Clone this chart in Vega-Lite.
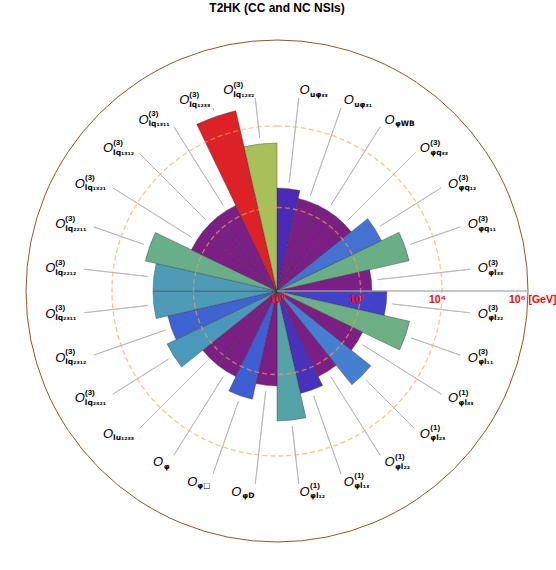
{
  "$schema": "https://vega.github.io/schema/vega-lite/v6.json",
  "width": 554,
  "height": 556,
  "autosize": {"type": "none"},
  "padding": {"top": 13, "left": 0, "right": 2, "bottom": 1},
  "background": "white",
  "title": {"text": "T2HK (CC and NC NSIs)", "font": "Liberation Sans", "fontSize": 12, "fontWeight": "bold", "anchor": "middle", "frame": "group", "offset": -2, "color": "black"},
  "config": {"view": {"stroke": null}, "font": "Liberation Sans"},
  "data": {"values": [
    {"idx": 0, "op": "O_uphi33", "value": 376, "sub": "uφ₃₃", "sup": ""},
    {"idx": 1, "op": "O_uphi31", "value": 237, "sub": "uφ₃₁", "sup": ""},
    {"idx": 2, "op": "O_phiWB", "value": 237, "sub": "φWB", "sup": ""},
    {"idx": 3, "op": "O3_phiq33", "value": 237, "sub": "φq₃₃", "sup": "(3)"},
    {"idx": 4, "op": "O3_phiq12", "value": 794, "sub": "φq₁₂", "sup": "(3)"},
    {"idx": 5, "op": "O3_phiq11", "value": 2441, "sub": "φq₁₁", "sup": "(3)"},
    {"idx": 6, "op": "O3_phil33", "value": 237, "sub": "φl₃₃", "sup": "(3)"},
    {"idx": 7, "op": "O3_phil22", "value": 562, "sub": "φl₂₂", "sup": "(3)"},
    {"idx": 8, "op": "O3_phil11", "value": 2512, "sub": "φl₁₁", "sup": "(3)"},
    {"idx": 9, "op": "O1_phil33", "value": 237, "sub": "φl₃₃", "sup": "(1)"},
    {"idx": 10, "op": "O1_phil23", "value": 1000, "sub": "φl₂₃", "sup": "(1)"},
    {"idx": 11, "op": "O1_phil22", "value": 237, "sub": "φl₂₂", "sup": "(1)"},
    {"idx": 12, "op": "O1_phil13", "value": 422, "sub": "φl₁₃", "sup": "(1)"},
    {"idx": 13, "op": "O1_phil12", "value": 1778, "sub": "φl₁₂", "sup": "(1)"},
    {"idx": 14, "op": "O_phiD", "value": 237, "sub": "φD", "sup": ""},
    {"idx": 15, "op": "O_phiBox", "value": 596, "sub": "φ□", "sup": ""},
    {"idx": 16, "op": "O_phi", "value": 237, "sub": "φ", "sup": ""},
    {"idx": 17, "op": "O_lu1233", "value": 237, "sub": "lu₁₂₃₃", "sup": ""},
    {"idx": 18, "op": "O3_lq2321", "value": 1122, "sub": "lq₂₃₂₁", "sup": "(3)"},
    {"idx": 19, "op": "O3_lq2312", "value": 631, "sub": "lq₂₃₁₂", "sup": "(3)"},
    {"idx": 20, "op": "O3_lq2311", "value": 1259, "sub": "lq₂₃₁₁", "sup": "(3)"},
    {"idx": 21, "op": "O3_lq2212", "value": 1259, "sub": "lq₂₂₁₂", "sup": "(3)"},
    {"idx": 22, "op": "O3_lq2211", "value": 2371, "sub": "lq₂₂₁₁", "sup": "(3)"},
    {"idx": 23, "op": "O3_lq1321", "value": 237, "sub": "lq₁₃₂₁", "sup": "(3)"},
    {"idx": 24, "op": "O3_lq1312", "value": 237, "sub": "lq₁₃₁₂", "sup": "(3)"},
    {"idx": 25, "op": "O3_lq1311", "value": 237, "sub": "lq₁₃₁₁", "sup": "(3)"},
    {"idx": 26, "op": "O3_lq1233", "value": 42170, "sub": "lq₁₂₃₃", "sup": "(3)"},
    {"idx": 27, "op": "O3_lq1232", "value": 5012, "sub": "lq₁₂₃₂", "sup": "(3)"}
  ]},
  "layer": [
    {
      "data": {"values": [{"a0": 0, "a1": 28, "r": 1883650}]},
      "mark": {"type": "arc", "filled": false, "stroke": "#8b5a2b", "strokeWidth": 1},
      "encoding": {
        "theta": {"field": "a0", "type": "quantitative", "scale": {"domain": [0, 28]}},
        "theta2": {"field": "a1"},
        "radius": {"field": "r", "type": "quantitative", "scale": {"type": "log", "domain": [1, 1883650], "range": [0, 251], "zero": false}}
      }
    },
    {
      "mark": {"type": "arc", "stroke": "#2a2a2a", "strokeWidth": 0.6, "strokeOpacity": 0.6, "theta2Offset": 0.224399},
      "encoding": {
        "theta": {"field": "idx", "type": "quantitative", "scale": {"domain": [0, 28]}},
        "theta2": {"field": "idx"},
        "radius": {"field": "value", "type": "quantitative", "scale": {"type": "log", "domain": [1, 1883650], "range": [0, 251], "zero": false}},
        "fill": {"field": "value", "type": "quantitative", "legend": null,
          "scale": {"type": "log", "interpolate": "rgb",
            "domain": [237, 376, 562, 596, 794, 1000, 1122, 1778, 2400, 5012, 42170],
            "range": ["#7b1f84", "#4b2ab6", "#4242c8", "#3e5fd1", "#4472d0", "#4580d0", "#4a98bb", "#54a3a6", "#68ae88", "#a9bf5a", "#dc2227"]}}
      }
    },
    {
      "data": {"values": [{"a0": 0, "a1": 28, "r": 122.5}, {"a0": 0, "a1": 28, "r": 13335}]},
      "mark": {"type": "arc", "filled": false, "stroke": "#ffa24a", "strokeWidth": 1.3, "strokeOpacity": 0.65, "strokeDash": [5, 3]},
      "encoding": {
        "theta": {"field": "a0", "type": "quantitative", "scale": {"domain": [0, 28]}},
        "theta2": {"field": "a1"},
        "radius": {"field": "r", "type": "quantitative", "scale": {"type": "log", "domain": [1, 1883650], "range": [0, 251], "zero": false}}
      }
    },
    {
      "data": {"values": [{"a": 7, "r0": 1, "r1": 1883650}]},
      "mark": {"type": "arc", "filled": false, "stroke": "#a8a8a8", "strokeWidth": 0.8},
      "encoding": {
        "theta": {"field": "a", "type": "quantitative", "scale": {"domain": [0, 28]}},
        "theta2": {"field": "a"},
        "radius": {"field": "r1", "type": "quantitative", "scale": {"type": "log", "domain": [1, 1883650], "range": [0, 251], "zero": false}},
        "radius2": {"field": "r0"}
      }
    },
    {
      "mark": {"type": "arc", "filled": false, "stroke": "#b4b4b4", "strokeWidth": 0.8, "radiusOffset": 6, "thetaOffset": 0.1122, "theta2Offset": 0.1122},
      "encoding": {
        "theta": {"field": "idx", "type": "quantitative", "scale": {"domain": [0, 28]}},
        "theta2": {"field": "idx"},
        "radius": {"field": "value", "type": "quantitative", "scale": {"type": "log", "domain": [1, 1883650], "range": [0, 251], "zero": false}},
        "radius2": {"datum": 70795}
      }
    },
    {
      "data": {"values": [{"t": "10⁰", "v": 1}, {"t": "10²", "v": 100}, {"t": "10⁴", "v": 10000}, {"t": "10⁶ [GeV]", "v": 1000000}]},
      "mark": {"type": "text", "align": "left", "baseline": "middle", "dx": -8, "dy": 9, "fontSize": 10.5, "fontWeight": "bold", "fill": "#ff0000", "font": "Liberation Sans"},
      "encoding": {
        "theta": {"datum": 7, "type": "quantitative", "scale": {"domain": [0, 28]}},
        "radius": {"field": "v", "type": "quantitative", "scale": {"type": "log", "domain": [1, 1883650], "range": [0, 251], "zero": false}},
        "text": {"field": "t", "type": "nominal"}
      }
    },
    {
      "mark": {"type": "text", "align": "left", "baseline": "middle", "fontSize": 13, "fontStyle": "italic", "fill": "black", "font": "Liberation Sans"},
      "encoding": {
        "theta": {"aggregate": "count", "type": "quantitative", "stack": true, "scale": {"domain": [0, 28]}},
        "order": {"field": "idx", "type": "quantitative"},
        "radius": {"datum": 112200, "type": "quantitative", "scale": {"type": "log", "domain": [1, 1883650], "range": [0, 251], "zero": false}},
        "text": {"condition": {"test": "datum.idx < 14", "value": "O"}, "value": ""}
      }
    },
    {
      "mark": {"type": "text", "align": "left", "baseline": "middle", "dx": 10.5, "dy": 4.5, "fontSize": 7.5, "fontWeight": "bold", "fill": "black", "font": "DejaVu Sans"},
      "encoding": {
        "theta": {"aggregate": "count", "type": "quantitative", "stack": true, "scale": {"domain": [0, 28]}},
        "order": {"field": "idx", "type": "quantitative"},
        "radius": {"datum": 112200, "type": "quantitative", "scale": {"type": "log", "domain": [1, 1883650], "range": [0, 251], "zero": false}},
        "text": {"condition": {"test": "datum.idx < 14", "field": "sub", "type": "nominal"}, "value": ""}
      }
    },
    {
      "mark": {"type": "text", "align": "left", "baseline": "middle", "dx": 10.5, "dy": -5.5, "fontSize": 8, "fontWeight": "bold", "fill": "black", "font": "Liberation Sans"},
      "encoding": {
        "theta": {"aggregate": "count", "type": "quantitative", "stack": true, "scale": {"domain": [0, 28]}},
        "order": {"field": "idx", "type": "quantitative"},
        "radius": {"datum": 112200, "type": "quantitative", "scale": {"type": "log", "domain": [1, 1883650], "range": [0, 251], "zero": false}},
        "text": {"condition": {"test": "datum.idx < 14", "field": "sup", "type": "nominal"}, "value": ""}
      }
    },
    {
      "mark": {"type": "text", "align": "right", "baseline": "middle", "dx": 0, "dy": 4.5, "fontSize": 7.5, "fontWeight": "bold", "fill": "black", "font": "DejaVu Sans"},
      "encoding": {
        "theta": {"aggregate": "count", "type": "quantitative", "stack": true, "scale": {"domain": [0, 28]}},
        "order": {"field": "idx", "type": "quantitative"},
        "radius": {"datum": 112200, "type": "quantitative", "scale": {"type": "log", "domain": [1, 1883650], "range": [0, 251], "zero": false}},
        "text": {"condition": {"test": "datum.idx >= 14", "field": "sub", "type": "nominal"}, "value": ""}
      }
    },
    {
      "mark": {"type": "text", "align": "left", "baseline": "middle", "dx": -21, "dy": -5.5, "fontSize": 8, "fontWeight": "bold", "fill": "black", "font": "Liberation Sans"},
      "encoding": {
        "theta": {"aggregate": "count", "type": "quantitative", "stack": true, "scale": {"domain": [0, 28]}},
        "order": {"field": "idx", "type": "quantitative"},
        "radius": {"datum": 112200, "type": "quantitative", "scale": {"type": "log", "domain": [1, 1883650], "range": [0, 251], "zero": false}},
        "text": {"condition": {"test": "datum.idx >= 17", "field": "sup", "type": "nominal"}, "value": ""}
      }
    },
    {
      "mark": {"type": "text", "align": "right", "baseline": "middle", "dx": -21, "fontSize": 13, "fontStyle": "italic", "fill": "black", "font": "Liberation Sans"},
      "encoding": {
        "theta": {"aggregate": "count", "type": "quantitative", "stack": true, "scale": {"domain": [0, 28]}},
        "order": {"field": "idx", "type": "quantitative"},
        "radius": {"datum": 112200, "type": "quantitative", "scale": {"type": "log", "domain": [1, 1883650], "range": [0, 251], "zero": false}},
        "text": {"condition": {"test": "datum.idx >= 17", "value": "O"}, "value": ""}
      }
    },
    {
      "mark": {"type": "text", "align": "right", "baseline": "middle", "dx": -13, "fontSize": 13, "fontStyle": "italic", "fill": "black", "font": "Liberation Sans"},
      "encoding": {
        "theta": {"aggregate": "count", "type": "quantitative", "stack": true, "scale": {"domain": [0, 28]}},
        "order": {"field": "idx", "type": "quantitative"},
        "radius": {"datum": 112200, "type": "quantitative", "scale": {"type": "log", "domain": [1, 1883650], "range": [0, 251], "zero": false}},
        "text": {"condition": {"test": "datum.idx == 14 || datum.idx == 15", "value": "O"}, "value": ""}
      }
    },
    {
      "mark": {"type": "text", "align": "right", "baseline": "middle", "dx": -6.5, "fontSize": 13, "fontStyle": "italic", "fill": "black", "font": "Liberation Sans"},
      "encoding": {
        "theta": {"aggregate": "count", "type": "quantitative", "stack": true, "scale": {"domain": [0, 28]}},
        "order": {"field": "idx", "type": "quantitative"},
        "radius": {"datum": 112200, "type": "quantitative", "scale": {"type": "log", "domain": [1, 1883650], "range": [0, 251], "zero": false}},
        "text": {"condition": {"test": "datum.idx == 16", "value": "O"}, "value": ""}
      }
    }
  ]
}
